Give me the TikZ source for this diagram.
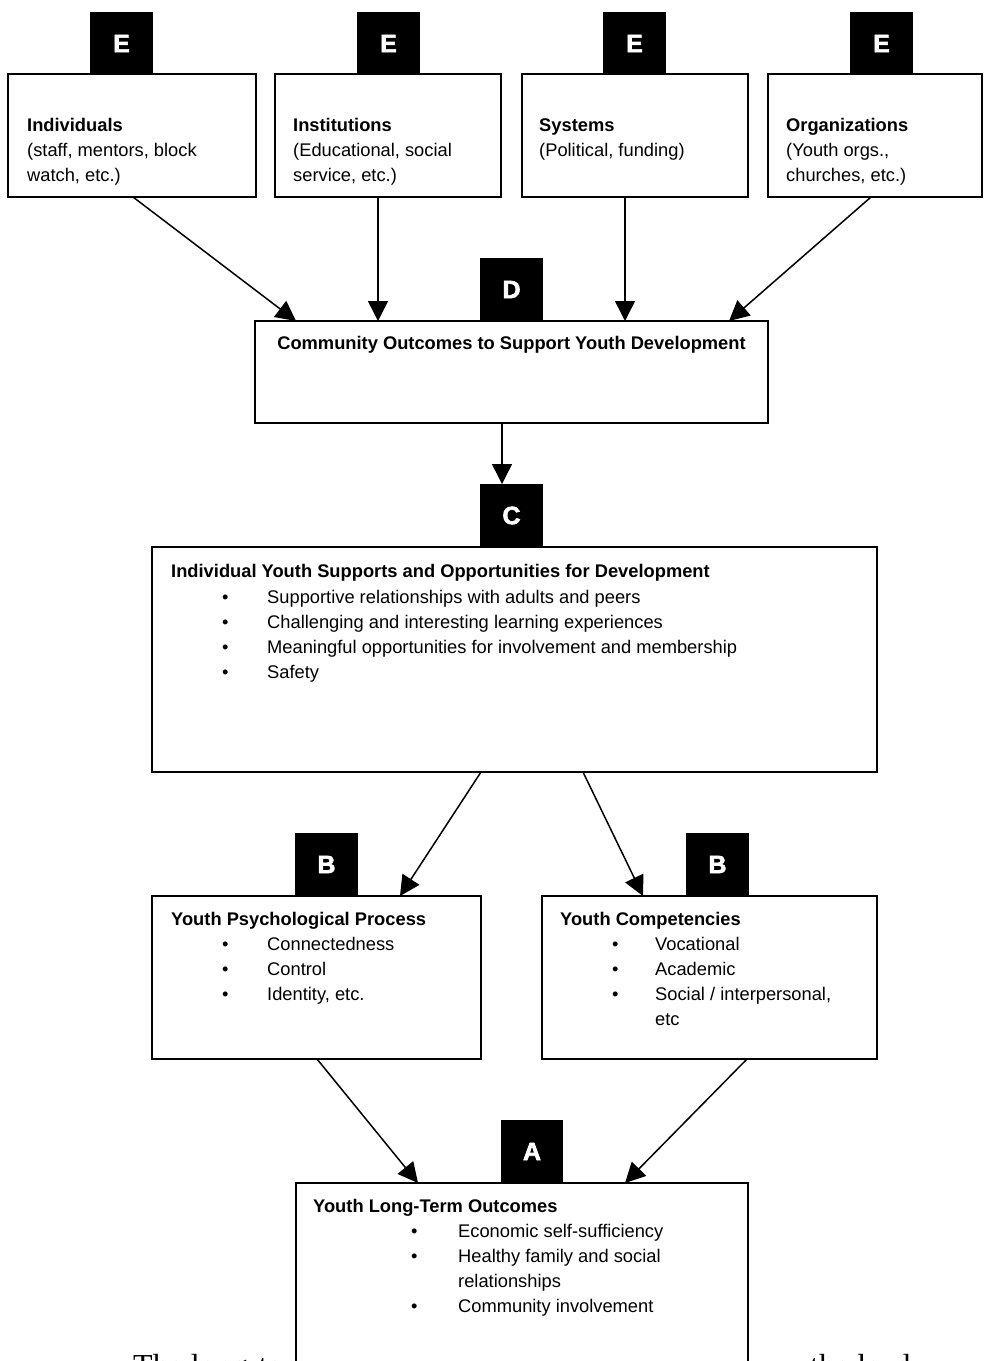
\documentclass[tikz,border=0pt]{standalone}
\usepackage{fontspec}
\setmainfont{Liberation Sans}
\newfontfamily\bgserif{Liberation Serif}
\newfontfamily\tabfont[FakeBold=2.5]{Liberation Sans Bold}
\usetikzlibrary{arrows.meta}
\newcommand\tline[4]{\node[txt,#4] (#1) at (#2) {#3};}
\begin{document}
\begin{tikzpicture}[x=1pt,y=-1pt,
  box/.style={draw,line width=1.6pt,fill=white,inner sep=0pt,outer sep=0pt,anchor=north west},
  tab/.style={fill=black,inner sep=0pt,outer sep=0pt,anchor=north west,minimum width=63pt,minimum height=63pt,text=white,font=\tabfont\fontsize{25}{25}\selectfont},
  txt/.style={anchor=base west,inner sep=0pt,font=\fontsize{18.3}{25}\selectfont},
  bold/.style={font=\fontsize{18.3}{25}\selectfont\bfseries},
  arr/.style={line width=1.5pt,-{Triangle[length=20pt,width=20pt]}}]
\useasboundingbox (0,0) rectangle (984,1361);
% background text partly hidden behind the last box
\begin{scope}
\clip (0,0) rectangle (984,1361);
\node[anchor=base west,inner sep=0pt,font=\bgserif\fontsize{32}{32}\selectfont] (bgl) at (133,1376) {The long-term};
\node[anchor=base west,inner sep=0pt,font=\bgserif\fontsize{32}{32}\selectfont] (bgr) at (810,1376) {the lead};
% boxes
\node[box,minimum width=248pt,minimum height=123pt] (e1) at (8,74) {};
\node[box,minimum width=226pt,minimum height=123pt] (e2) at (275,74) {};
\node[box,minimum width=226pt,minimum height=123pt] (e3) at (522,74) {};
\node[box,minimum width=214pt,minimum height=123pt] (e4) at (768,74) {};
\node[box,minimum width=513pt,minimum height=102pt] (com) at (255,321) {};
\node[box,minimum width=725pt,minimum height=225pt] (ind) at (152,547) {};
\node[box,minimum width=329pt,minimum height=163pt] (lb) at (152,896) {};
\node[box,minimum width=335pt,minimum height=163pt] (rb) at (542,896) {};
\node[box,minimum width=452pt,minimum height=250pt] (lt) at (296,1183) {};
\end{scope}
% tabs
\node[tab] (te1) at (90,12) {E};
\node[tab] (te2) at (357,12) {E};
\node[tab] (te3) at (603,12) {E};
\node[tab] (te4) at (850,12) {E};
\node[tab] (td) at (480,258) {D};
\node[tab] (tc) at (480,484) {C};
\node[tab] (tb1) at (295,833) {B};
\node[tab] (tb2) at (686,833) {B};
\node[tab,minimum width=62pt] (ta) at (501,1120) {A};
% texts top
\tline{e1a}{27,131}{Individuals}{bold}
\tline{e1b}{27,156}{(staff, mentors, block}{}
\tline{e1c}{27,181}{watch, etc.)}{}
\tline{e2a}{293,131}{Institutions}{bold}
\tline{e2b}{293,156}{(Educational, social}{}
\tline{e2c}{293,181}{service, etc.)}{}
\tline{e3a}{539,131}{Systems}{bold}
\tline{e3b}{539,156}{(Political, funding)}{}
\tline{e4a}{786,131}{Organizations}{bold}
\tline{e4b}{786,156}{(Youth orgs.,}{}
\tline{e4c}{786,181}{churches, etc.)}{}
% community
\tline{coma}{511.5,349}{Community Outcomes to Support Youth Development}{bold,anchor=base}
% individual supports
\tline{inda}{171,577}{Individual Youth Supports and Opportunities for Development}{bold}
\tline{indb1}{222,603}{•}{}
\tline{indt1}{267,603}{Supportive relationships with adults and peers}{}
\tline{indb2}{222,628}{•}{}
\tline{indt2}{267,628}{Challenging and interesting learning experiences}{}
\tline{indb3}{222,653}{•}{}
\tline{indt3}{267,653}{Meaningful opportunities for involvement and membership}{}
\tline{indb4}{222,678}{•}{}
\tline{indt4}{267,678}{Safety}{}
% psychological
\tline{lba}{171,925}{Youth Psychological Process}{bold}
\tline{lbb1}{222,950}{•}{}
\tline{lbt1}{267,950}{Connectedness}{}
\tline{lbb2}{222,975}{•}{}
\tline{lbt2}{267,975}{Control}{}
\tline{lbb3}{222,1000}{•}{}
\tline{lbt3}{267,1000}{Identity, etc.}{}
% competencies
\tline{rba}{560,925}{Youth Competencies}{bold}
\tline{rbb1}{612,950}{•}{}
\tline{rbt1}{655,950}{Vocational}{}
\tline{rbb2}{612,975}{•}{}
\tline{rbt2}{655,975}{Academic}{}
\tline{rbb3}{612,1000}{•}{}
\tline{rbt3}{655,1000}{Social / interpersonal,}{}
\tline{rbt4}{655,1025}{etc}{}
% long-term
\tline{lta}{313,1212}{Youth Long-Term Outcomes}{bold}
\tline{ltb1}{411,1237}{•}{}
\tline{ltt1}{458,1237}{Economic self-sufficiency}{}
\tline{ltb2}{411,1262}{•}{}
\tline{ltt2}{458,1262}{Healthy family and social}{}
\tline{ltt3}{458,1287}{relationships}{}
\tline{ltb4}{411,1312}{•}{}
\tline{ltt4}{458,1312}{Community involvement}{}
% arrows
\draw[arr] ([xshift=125pt]e1.south west) -- ([xshift=41pt]com.north west);
\draw[arr] ([xshift=103pt]e2.south west) -- ([xshift=123pt]com.north west);
\draw[arr] ([xshift=103pt]e3.south west) -- ([xshift=370pt]com.north west);
\draw[arr] ([xshift=103pt]e4.south west) -- ([xshift=474pt]com.north west);
\draw[arr] ([xshift=247pt]com.south west) -- ([xshift=22pt]tc.north west);
\draw[arr] ([xshift=329pt]ind.south west) -- ([xshift=248pt]lb.north west);
\draw[arr] ([xshift=431pt]ind.south west) -- ([xshift=101pt]rb.north west);
\draw[arr] ([xshift=165pt]lb.south west) -- ([xshift=122pt]lt.north west);
\draw[arr] ([xshift=205pt]rb.south west) -- ([xshift=329pt]lt.north west);
\end{tikzpicture}
\end{document}
